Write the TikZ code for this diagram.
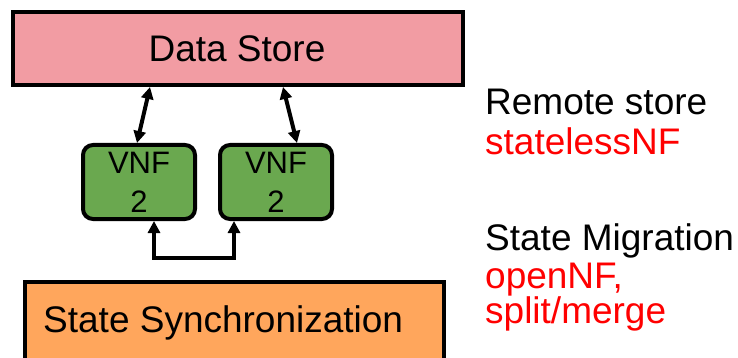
\documentclass[tikz,border=0pt]{standalone}
\usepackage{fontspec}
\setmainfont{Liberation Sans}
\usetikzlibrary{arrows.meta}
\definecolor{dspink}{HTML}{F29CA3}
\definecolor{vnfgreen}{HTML}{6AA84F}
\definecolor{syncorange}{HTML}{FFA65C}
\tikzset{
  bigtxt/.style={font=\fontsize{37}{40}\selectfont},
  sidetxt/.style={font=\fontsize{37}{40}\selectfont, anchor=base west, inner sep=0pt},
  vnfbox/.style={draw=black, line width=4pt, fill=vnfgreen, rounded corners=10pt,
    minimum width=112pt, minimum height=74pt, inner sep=0pt, align=center,
    font=\fontsize{31}{39}\selectfont},
  conn/.style={line width=4pt, {Triangle[length=12pt,width=12pt]}-{Triangle[length=12pt,width=12pt]}},
}
\begin{document}
\begin{tikzpicture}[x=1pt,y=-1pt]
\clip (0,0) rectangle (738,358);
\useasboundingbox (0,0) rectangle (738,358);
% Data Store
\node[draw=black, line width=4pt, fill=dspink, minimum width=450pt, minimum height=73pt,
  inner sep=0pt, anchor=north west] (ds) at (11,10) {};
\node[bigtxt, anchor=base, inner sep=0pt] (dst) at (237,62) {Data Store};
% VNF boxes
\node[vnfbox, anchor=north west] (vnfa) at (81,143) {VNF\\2};
\node[vnfbox, anchor=north west] (vnfb) at (218,143) {VNF\\2};
% State Synchronization
\node[draw=black, line width=4pt, fill=syncorange, minimum width=419pt, minimum height=110pt,
  inner sep=0pt, anchor=north west] (sync) at (23,280) {};
\node[bigtxt, anchor=base west, inner sep=0pt] (synct) at (43,332) {State Synchronization};
% connectors
\draw[conn] ([xshift=139pt]ds.south west) -- ([xshift=56pt]vnfa.north west);
\draw[conn] ([xshift=272pt]ds.south west) -- ([xshift=79pt]vnfb.north west);
\coordinate (bl) at (154,258);
\coordinate (br) at (234,258);
\draw[conn] ([xshift=73pt]vnfa.south west) -- (bl) -- (br) -- ([xshift=16pt]vnfb.south west);
% side texts
\node[sidetxt] (t1) at (485,115) {Remote store};
\node[sidetxt, text=red] (t2) at (485,155) {statelessNF};
\node[sidetxt] (t3) at (485,250) {State Migration};
\node[sidetxt, text=red] (t4) at (485,288) {openNF,};
\node[sidetxt, text=red] (t5) at (485,323) {split/merge};
\end{tikzpicture}
\end{document}
